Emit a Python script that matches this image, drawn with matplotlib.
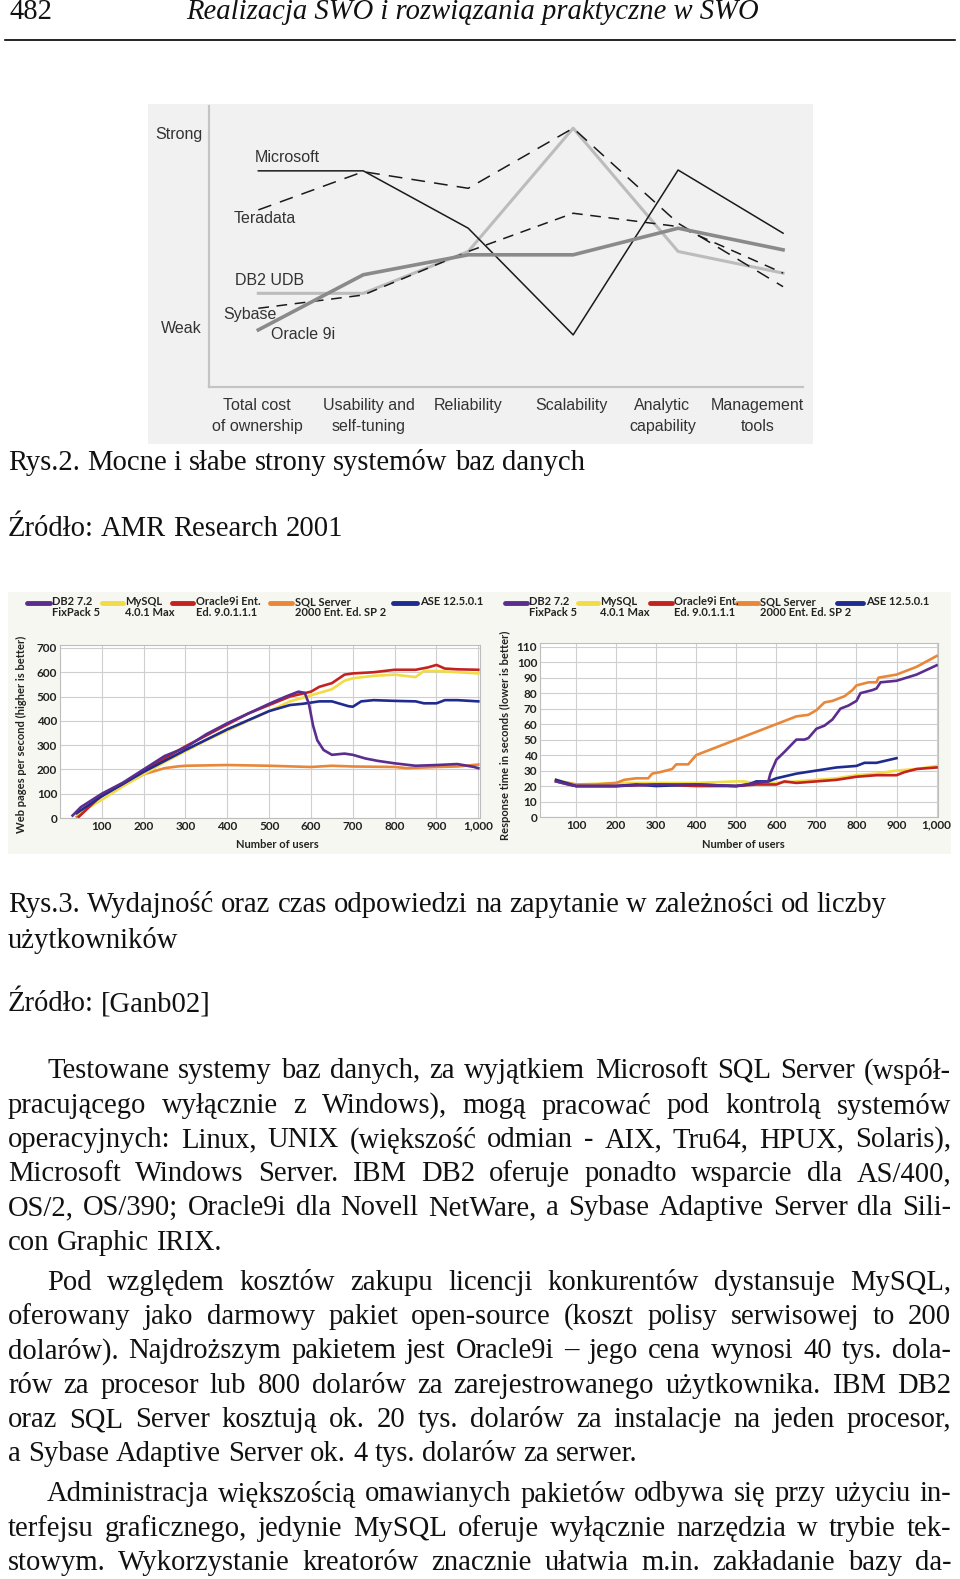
import matplotlib
matplotlib.use("Agg")
import matplotlib.pyplot as plt
from matplotlib.lines import Line2D
from matplotlib.patches import Rectangle

# --- Rys.2: mocne i slabe strony ---
criteria = ["Total cost\nof ownership", "Usability and\nself-tuning", "Reliability",
            "Scalability", "Analytic\ncapability", "Management\ntools"]
microsoft = [7.63, 7.63, 5.56, 1.71, 7.66, 5.38]
teradata = [6.22, 7.60, 7.00, 9.17, 5.74, 3.45]
db2_udb = [3.21, 3.21, 4.72, 9.17, 4.72, 3.94]
sybase = [2.67, 3.15, 4.72, 6.10, 5.62, 3.94]
oracle9i = [1.89, 3.88, 4.60, 4.60, 5.56, 4.78]

# --- Rys.3: wydajnosc (strony/s) ---
series_names = ["DB2 7.2\nFixPack 5", "MySQL\n4.0.1 Max", "Oracle9i Ent.\nEd. 9.0.1.1.1",
                "SQL Server\n2000 Ent. Ed. SP 2", "ASE 12.5.0.1"]
series_colors = ["#5b2d8e", "#f2dc45", "#c4221f", "#e8873a", "#1f2b8f"]

x_db2_l = [30, 50, 100, 150, 200, 250, 300, 350, 400, 450, 500, 540, 570, 585, 595, 605, 615, 630, 650, 680, 700, 730, 760, 800, 850, 900, 950, 990, 1000]
y_db2_l = [10, 45, 100, 145, 200, 255, 290, 345, 390, 430, 470, 500, 520, 515, 470, 380, 320, 280, 260, 265, 260, 245, 235, 225, 215, 218, 222, 210, 205]
x_mysql_l = [40, 100, 150, 200, 250, 300, 350, 400, 450, 500, 550, 600, 650, 680, 700, 750, 800, 850, 870, 900, 950, 1000]
y_mysql_l = [15, 75, 130, 180, 230, 275, 320, 360, 400, 440, 480, 505, 530, 565, 575, 585, 590, 580, 605, 605, 600, 595]
x_oracle_l = [45, 100, 150, 200, 250, 300, 350, 400, 450, 500, 550, 600, 620, 650, 680, 700, 750, 800, 850, 880, 900, 920, 950, 1000]
y_oracle_l = [5, 95, 140, 195, 245, 295, 340, 385, 430, 465, 500, 520, 540, 555, 590, 595, 600, 610, 610, 620, 630, 615, 612, 610]
x_sql_l = [40, 100, 150, 200, 250, 280, 300, 400, 500, 600, 650, 700, 800, 830, 900, 950, 1000]
y_sql_l = [5, 90, 135, 180, 205, 212, 215, 218, 215, 210, 215, 212, 210, 205, 210, 212, 220]
x_ase_l = [40, 100, 200, 300, 400, 500, 550, 580, 620, 650, 670, 690, 700, 720, 750, 800, 850, 870, 900, 920, 950, 1000]
y_ase_l = [20, 90, 190, 280, 365, 440, 465, 470, 480, 480, 470, 460, 458, 480, 485, 482, 480, 472, 472, 485, 485, 480]

# --- Rys.3: czas odpowiedzi (s) ---
x_db2_r = [50, 80, 100, 200, 300, 400, 500, 550, 580, 585, 600, 620, 650, 670, 680, 700, 720, 740, 760, 780, 800, 810, 840, 850, 860, 900, 950, 1000]
y_db2_r = [23, 21, 20, 20, 21, 21, 20, 22, 23, 28, 37, 42, 50, 50, 51, 57, 59, 63, 70, 72, 75, 80, 82, 83, 87, 88, 92, 98]
x_mysql_r = [50, 100, 200, 300, 400, 500, 520, 540, 600, 650, 700, 750, 800, 850, 900, 950, 1000]
y_mysql_r = [24, 21, 22, 22, 22, 23, 23, 22, 22, 23, 24, 25, 27, 28, 30, 31, 33]
x_oracle_r = [50, 100, 200, 300, 400, 500, 550, 600, 620, 650, 700, 750, 800, 850, 880, 900, 920, 950, 1000]
y_oracle_r = [23, 20, 20, 21, 20, 20, 21, 21, 23, 22, 23, 24, 26, 27, 27, 27, 29, 31, 32]
x_sql_r = [50, 80, 100, 150, 200, 220, 250, 280, 290, 310, 340, 350, 380, 400, 450, 500, 550, 600, 650, 680, 700, 720, 740, 770, 790, 800, 830, 850, 855, 900, 950, 1000]
y_sql_r = [23, 22, 21, 21, 22, 24, 25, 25, 28, 29, 31, 34, 34, 40, 45, 50, 55, 60, 65, 66, 69, 74, 75, 78, 82, 85, 87, 87, 90, 92, 97, 104]
x_ase_r = [50, 100, 200, 250, 300, 400, 500, 530, 550, 580, 600, 650, 700, 750, 800, 820, 850, 900]
y_ase_r = [24, 20, 20, 21, 20, 21, 20, 21, 23, 23, 25, 28, 30, 32, 33, 35, 35, 38]

user_ticks = [100, 200, 300, 400, 500, 600, 700, 800, 900, 1000]
user_labels = ["100", "200", "300", "400", "500", "600", "700", "800", "900", "1,000"]

# --- tekst strony ---
header_num = "482"
header_title = "Realizacja SWO i rozwiązania praktyczne w SWO"
caption2 = "Rys.2. Mocne i słabe strony systemów baz danych"
source2 = "Źródło: AMR Research 2001"
caption3 = ["Rys.3. Wydajność oraz czas odpowiedzi na zapytanie w zależności od liczby",
            "użytkowników"]
source3 = "Źródło: [Ganb02]"
paragraphs = [
    ["Testowane systemy baz danych, za wyjątkiem Microsoft SQL Server (współ-",
     "pracującego wyłącznie z Windows), mogą pracować pod kontrolą systemów",
     "operacyjnych: Linux, UNIX (większość odmian - AIX, Tru64, HPUX, Solaris),",
     "Microsoft Windows Server. IBM DB2 oferuje ponadto wsparcie dla AS/400,",
     "OS/2, OS/390; Oracle9i dla Novell NetWare, a Sybase Adaptive Server dla Sili-",
     "con Graphic IRIX."],
    ["Pod względem kosztów zakupu licencji konkurentów dystansuje MySQL,",
     "oferowany jako darmowy pakiet open-source (koszt polisy serwisowej to 200",
     "dolarów). Najdroższym pakietem jest Oracle9i – jego cena wynosi 40 tys. dola-",
     "rów za procesor lub 800 dolarów za zarejestrowanego użytkownika. IBM DB2",
     "oraz SQL Server kosztują ok. 20 tys. dolarów za instalacje na jeden procesor,",
     "a Sybase Adaptive Server ok. 4 tys. dolarów za serwer."],
    ["Administracja większością omawianych pakietów odbywa się przy użyciu in-",
     "terfejsu graficznego, jedynie MySQL oferuje wyłącznie narzędzia w trybie tek-",
     "stowym. Wykorzystanie kreatorów znacznie ułatwia m.in. zakładanie bazy da-"],
]
para_y = [[1071, 1106, 1140, 1174, 1208, 1243],
          [1283, 1317, 1351, 1386, 1420, 1454],
          [1494, 1529, 1563]]
last_full = [False, False, True]

W, H = 960, 1579
fig = plt.figure(figsize=(W / 100, H / 100), dpi=100)
fig.patch.set_facecolor("white")


def fx(px):
    return px / W


def fy(py):
    return 1 - py / H


def axes_px(x0, y0, x1, y1):
    return fig.add_axes([fx(x0), fy(y1), (x1 - x0) / W, (y1 - y0) / H])


# ================= Rys.2 =================
sans = "Liberation Sans"
fig.patches.append(Rectangle((fx(148), fy(444)), (813 - 148) / W, (444 - 104) / H,
                             transform=fig.transFigure, facecolor="#f1f1f1",
                             edgecolor="none", zorder=-5))
ax1 = axes_px(209, 106, 803, 387)
ax1.set_facecolor("none")
xs = list(range(len(criteria)))
ax1.plot(xs, db2_udb, color="#bcbcbc", lw=2.2)
ax1.plot(xs, sybase, color="#1a1a1a", lw=1.1, dashes=(7, 5))
ax1.plot(xs, teradata, color="#1a1a1a", lw=1.1, dashes=(9, 6))
ax1.plot(xs, microsoft, color="#1a1a1a", lw=1.1)
ax1.plot(xs, oracle9i, color="#8a8a8a", lw=2.6)
ax1.set_xlim(-0.47, 5.19)
ax1.set_ylim(-0.17, 9.97)
ax1.set_yticks([2, 9], ["Weak", "Strong"])
# etykiety kategorii w oryginale sa lekko przesuniete wzgledem punktow
label_pos = [-0.01, 1.05, 2.0, 2.98, 3.85, 4.76]
ax1.set_xticks(label_pos, criteria)
for lbl in ax1.get_xticklabels() + ax1.get_yticklabels():
    lbl.set_linespacing(1.45)
    lbl.set_fontfamily(sans)
ax1.tick_params(length=0, labelsize=11.5, labelcolor="#333333")
ax1.tick_params(axis="x", pad=8)
ax1.tick_params(axis="y", pad=5)
for s in ["top", "right"]:
    ax1.spines[s].set_visible(False)
for s in ["left", "bottom"]:
    ax1.spines[s].set_color("#c4c4c4")
    ax1.spines[s].set_linewidth(1.6)
for name, lx, ly in [("Microsoft", -0.03, 8.10), ("Teradata", -0.24, 5.90),
                     ("DB2 UDB", -0.22, 3.66), ("Sybase", -0.33, 2.43),
                     ("Oracle 9i", 0.12, 1.71)]:
    ax1.text(lx, ly, name, fontsize=11.5, family=sans, color="#333333", va="center", ha="left")

# ================= Rys.3 =================
fig.patches.append(Rectangle((fx(8), fy(854)), (951 - 8) / W, (854 - 592) / H,
                             transform=fig.transFigure, facecolor="#f7f7f2",
                             edgecolor="none", zorder=-5))
axL = axes_px(60, 645, 480, 818)
axR = axes_px(540, 643, 938, 817)

left_series = [(x_sql_l, y_sql_l, 3), (x_mysql_l, y_mysql_l, 1), (x_oracle_l, y_oracle_l, 2),
               (x_ase_l, y_ase_l, 4), (x_db2_l, y_db2_l, 0)]
right_series = [(x_mysql_r, y_mysql_r, 1), (x_oracle_r, y_oracle_r, 2), (x_sql_r, y_sql_r, 3),
                (x_ase_r, y_ase_r, 4), (x_db2_r, y_db2_r, 0)]

for ax, ser, xlim, ylim, yt in [(axL, left_series, (0, 1004), (0, 712), list(range(0, 701, 100))),
                                (axR, right_series, (10, 1003.5), (0, 112.4), list(range(0, 111, 10)))]:
    for xv, yv, ci in ser:
        ax.plot(xv, yv, color=series_colors[ci], lw=1.9, solid_joinstyle="round")
    ax.set_xlim(*xlim)
    ax.set_ylim(*ylim)
    ax.set_xticks(user_ticks, user_labels)
    ax.set_yticks(yt, [str(v) for v in yt])
    ax.grid(True, color="#cfcfcf", lw=0.8)
    ax.set_axisbelow(True)
    ax.tick_params(length=0, pad=2, labelcolor="#222222")
    for lbl in ax.get_xticklabels() + ax.get_yticklabels():
        lbl.set_fontfamily("Lato")
        lbl.set_fontweight("bold")
        lbl.set_fontsize(8.5)
    for s in ax.spines.values():
        s.set_color("#bdbdbd")
        s.set_linewidth(0.8)

small = dict(family="Lato", weight="bold", size=8, color="#222222")
fig.text(fx(21), fy(734), "Web pages per second (higher is better)", rotation=90,
         ha="center", va="center", **small)
fig.text(fx(505), fy(735), "Response time in seconds (lower is better)", rotation=90,
         ha="center", va="center", **small)
fig.text(fx(277), fy(844), "Number of users", ha="center", va="center", **small)
fig.text(fx(743), fy(844), "Number of users", ha="center", va="center", **small)

legend_left = [(27, 50, 52), (102, 123, 125), (172, 193, 196), (270, 292, 295), (393, 417, 420)]
legend_right = [(505, 527, 529), (578, 598, 600), (650, 672, 674), (737, 758, 760), (837, 863, 866)]
for layout in (legend_left, legend_right):
    for i, (s0, s1, tx) in enumerate(layout):
        fig.add_artist(Line2D([fx(s0), fx(s1)], [fy(603), fy(603)], transform=fig.transFigure,
                              color=series_colors[i], lw=3.5, solid_capstyle="round"))
        fig.text(fx(tx), fy(596), series_names[i], ha="left", va="top",
                 linespacing=0.95, **small)

# ================= tekst =================
renderer = fig.canvas.get_renderer()
serif = "Liberation Serif"
X0, X1, INDENT = 8, 951, 47


def text_width(s, fs, style="normal"):
    t = fig.text(0, 0, s, fontsize=fs, family=serif, style=style)
    w = t.get_window_extent(renderer).width
    t.remove()
    return w


base_fs = 21
ratio = 1.0
for p in paragraphs:
    for j, line in enumerate(p):
        start = X0 + (INDENT - X0 if j == 0 else 0)
        ratio = max(ratio, text_width(line, base_fs) / (X1 - start) / 0.985)
fs = base_fs / ratio


def put_line(y, s, x0, justify):
    words = s.split(" ")
    arts = [fig.text(0, fy(y), w, fontsize=fs, family=serif, va="center", ha="left",
                     color="#111111") for w in words]
    widths = [a.get_window_extent(renderer).width for a in arts]
    if justify and len(words) > 1:
        gap = (X1 - x0 - sum(widths)) / (len(words) - 1)
    else:
        gap = text_width("a b", fs) - text_width("ab", fs)
    x = x0
    for a, w in zip(arts, widths):
        a.set_x(fx(x))
        x += w + gap


fig.text(fx(10), fy(12), header_num, fontsize=fs, family=serif, va="center", color="#111111")
fig.text(fx(186), fy(12), header_title, fontsize=fs, family=serif, style="italic",
         va="center", color="#111111")
fig.add_artist(Line2D([fx(5), fx(955)], [fy(40), fy(40)], transform=fig.transFigure,
                      color="black", lw=1.2))

put_line(463, caption2, X0, False)
put_line(529, source2, X0, False)
put_line(905, caption3[0], X0, False)
put_line(940, caption3[1], X0, False)
put_line(1004, source3, X0, False)

for p, ys, lf in zip(paragraphs, para_y, last_full):
    for j, (line, y) in enumerate(zip(p, ys)):
        x0 = INDENT if j == 0 else X0
        justify = lf or j < len(p) - 1
        put_line(y, line, x0, justify)

fig.savefig("out.png", dpi=100)
